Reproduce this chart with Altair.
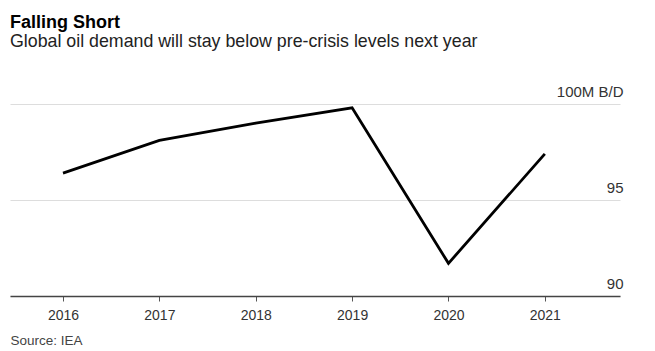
import altair as alt
import pandas as pd

years = [2016, 2017, 2018, 2019, 2020, 2021]
demand = [96.4, 98.1, 99.0, 99.8, 91.7, 97.4]
y_ticks = [90, 95, 100]

df = pd.DataFrame({"year": years, "demand": demand})

FONT = "Liberation Sans"

chart = (
    alt.Chart(df)
    .mark_line(color="#000000", strokeWidth=2.8)
    .encode(
        x=alt.X(
            "year:Q",
            scale=alt.Scale(domain=[2015.45, 2021.78], nice=False, zero=False),
            axis=alt.Axis(
                values=years,
                format="d",
                grid=False,
                domainColor="#444444",
                domainWidth=1.6,
                tickColor="#555555",
                tickSize=5,
                labelPadding=7,
                labelFontSize=14,
                labelColor="#333333",
                labelFont=FONT,
                title="Source: IEA",
                titleAnchor="start",
                titleAlign="left",
                titleX=0,
                titleY=37,
                titleFontWeight="normal",
                titleFontSize=13.5,
                titleColor="#444444",
                titleFont=FONT,
            ),
        ),
        y=alt.Y(
            "demand:Q",
            scale=alt.Scale(domain=[90, 100], nice=False, zero=False),
            axis=alt.Axis(
                orient="right",
                values=y_ticks,
                labelExpr="datum.value == 100 ? '100M B/D' : datum.label",
                grid=True,
                gridColor="#dddddd",
                domain=False,
                ticks=False,
                tickSize=0,
                labelAlign="right",
                labelBaseline="alphabetic",
                labelPadding=3,
                labelOffset=-8,
                labelFontSize=15,
                labelColor="#333333",
                labelFont=FONT,
                title=None,
            ),
        ),
    )
    .properties(
        width=610,
        height=192,
        background="white",
        autosize=alt.AutoSizeParams(type="none"),
        padding={"left": 10, "top": 104, "right": 35, "bottom": 55},
        title=alt.TitleParams(
            "Falling Short",
            subtitle="Global oil demand will stay below pre-crisis levels next year",
            anchor="start",
            frame="group",
            font=FONT,
            fontSize=18,
            fontWeight="bold",
            color="#000000",
            subtitleFont=FONT,
            subtitleFontSize=17.8,
            subtitleColor="#222222",
            subtitlePadding=1,
            offset=33,
        ),
    )
    .configure_view(strokeWidth=0)
)

chart.save("out.html", embed_options={"renderer": "svg", "actions": False})
